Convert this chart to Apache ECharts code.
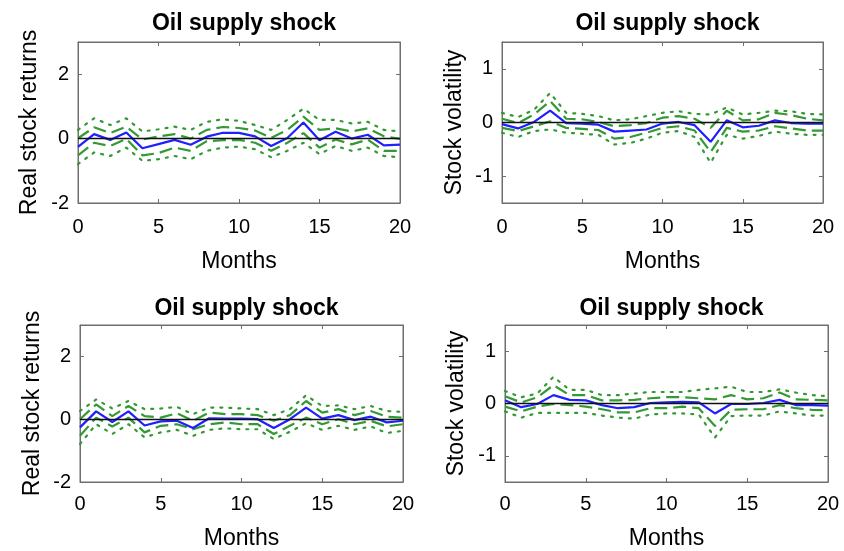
<!DOCTYPE html>
<html>
<head>
<meta charset="utf-8">
<script src="https://cdn.jsdelivr.net/npm/echarts@6/dist/echarts.min.js"></script>
<style>html,body{margin:0;padding:0;background:#fff}#c{width:844px;height:551px}</style>
</head>
<body>
<div id="c"></div>
<script>
const months = [0,1,2,3,4,5,6,7,8,9,10,11,12,13,14,15,16,17,18,19,20];
const xTicks = [0,5,10,15,20];
const titleText = 'Oil supply shock';
const xName = 'Months';
const yNames = ['Real stock returns','Stock volatility','Real stock returns','Stock volatility'];
const retTicks = [-2,0,2];
const volTicks = [-1,0,1];

// Panel 1: real stock returns (top)
const p1_med  = [-0.26,0.14,-0.04,0.19,-0.30,-0.17,-0.04,-0.19,0.06,0.18,0.18,0.07,-0.23,0.02,0.50,-0.05,0.21,0.00,0.12,-0.21,-0.19];
const p1_up68 = [0.01,0.35,0.17,0.37,-0.03,0.07,0.14,0.00,0.27,0.36,0.33,0.25,0.02,0.27,0.68,0.27,0.32,0.22,0.32,0.07,-0.01];
const p1_lo68 = [-0.52,-0.13,-0.23,-0.01,-0.52,-0.45,-0.28,-0.38,-0.08,-0.05,-0.04,-0.13,-0.38,-0.13,0.17,-0.28,-0.03,-0.18,-0.03,-0.38,-0.38];
const p1_up90 = [0.27,0.63,0.42,0.63,0.22,0.29,0.37,0.27,0.52,0.60,0.55,0.42,0.27,0.58,0.93,0.58,0.58,0.47,0.52,0.27,0.22];
const p1_lo90 = [-0.79,-0.43,-0.54,-0.28,-0.69,-0.64,-0.54,-0.64,-0.38,-0.28,-0.25,-0.33,-0.58,-0.38,-0.13,-0.48,-0.23,-0.38,-0.28,-0.54,-0.58];

// Panel 2: stock volatility (top)
const p2_med  = [-0.03,-0.11,0.01,0.22,-0.01,-0.02,-0.04,-0.17,-0.15,-0.13,-0.02,0.01,-0.05,-0.36,0.04,-0.09,-0.06,0.04,-0.01,-0.02,-0.02];
const p2_up68 = [0.07,-0.01,0.15,0.40,0.07,0.06,0.01,-0.07,-0.05,-0.01,0.09,0.12,0.07,-0.10,0.22,0.04,0.06,0.18,0.14,0.07,0.04];
const p2_lo68 = [-0.10,-0.16,-0.07,0.02,-0.10,-0.12,-0.14,-0.30,-0.27,-0.19,-0.10,-0.07,-0.15,-0.55,-0.10,-0.17,-0.15,-0.07,-0.11,-0.15,-0.15];
const p2_up90 = [0.18,0.10,0.24,0.55,0.18,0.16,0.12,0.04,0.06,0.12,0.18,0.21,0.16,0.15,0.28,0.15,0.18,0.22,0.21,0.16,0.15];
const p2_lo90 = [-0.19,-0.27,-0.16,-0.13,-0.19,-0.21,-0.23,-0.41,-0.38,-0.30,-0.19,-0.16,-0.27,-0.75,-0.23,-0.30,-0.25,-0.17,-0.21,-0.23,-0.23];

// Panel 3: real stock returns (bottom)
const p3_med  = [-0.26,0.25,-0.09,0.25,-0.20,-0.07,-0.05,-0.28,0.03,0.02,0.02,0.00,-0.28,0.00,0.37,0.02,0.13,-0.03,0.08,-0.10,-0.05];
const p3_up68 = [0.00,0.47,0.10,0.42,0.10,0.05,0.19,-0.05,0.21,0.16,0.16,0.13,-0.05,0.13,0.58,0.21,0.32,0.13,0.26,0.08,0.05];
const p3_lo68 = [-0.53,0.05,-0.23,0.05,-0.42,-0.21,-0.16,-0.32,-0.16,-0.10,-0.16,-0.16,-0.47,-0.21,0.05,-0.16,0.00,-0.16,-0.05,-0.23,-0.16];
const p3_up90 = [0.26,0.63,0.34,0.58,0.32,0.34,0.39,0.16,0.37,0.37,0.34,0.32,0.13,0.32,0.76,0.42,0.44,0.32,0.42,0.26,0.23];
const p3_lo90 = [-0.79,-0.16,-0.47,-0.16,-0.58,-0.42,-0.34,-0.53,-0.34,-0.29,-0.32,-0.32,-0.63,-0.40,-0.13,-0.34,-0.21,-0.34,-0.23,-0.44,-0.37];

// Panel 4: stock volatility (bottom)
const p4_med  = [0.06,-0.07,-0.01,0.16,0.07,0.06,-0.03,-0.09,-0.07,0.01,0.02,0.03,0.02,-0.19,-0.01,-0.01,0.01,0.07,-0.03,-0.03,-0.04];
const p4_up68 = [0.14,0.02,0.12,0.35,0.16,0.16,0.06,0.06,0.07,0.10,0.12,0.12,0.10,0.08,0.16,0.08,0.10,0.21,0.08,0.07,0.06];
const p4_lo68 = [-0.06,-0.15,-0.06,-0.01,-0.03,-0.06,-0.11,-0.17,-0.17,-0.09,-0.09,-0.06,-0.09,-0.43,-0.12,-0.11,-0.11,-0.03,-0.09,-0.12,-0.13];
const p4_up90 = [0.24,0.12,0.19,0.51,0.26,0.26,0.16,0.16,0.19,0.22,0.22,0.22,0.26,0.29,0.32,0.22,0.22,0.27,0.21,0.16,0.14];
const p4_lo90 = [-0.15,-0.27,-0.18,-0.18,-0.18,-0.18,-0.23,-0.27,-0.29,-0.21,-0.19,-0.19,-0.21,-0.65,-0.24,-0.23,-0.23,-0.15,-0.19,-0.23,-0.23];

const panels = [
  {med:p1_med, up68:p1_up68, lo68:p1_lo68, up90:p1_up90, lo90:p1_lo90, ymin:-2, ymax:3, ticks:retTicks},
  {med:p2_med, up68:p2_up68, lo68:p2_lo68, up90:p2_up90, lo90:p2_lo90, ymin:-1.5, ymax:1.5, ticks:volTicks},
  {med:p3_med, up68:p3_up68, lo68:p3_lo68, up90:p3_up90, lo90:p3_lo90, ymin:-2, ymax:3, ticks:retTicks},
  {med:p4_med, up68:p4_up68, lo68:p4_lo68, up90:p4_up90, lo90:p4_lo90, ymin:-1.5, ymax:1.5, ticks:volTicks}
];

// layout (pixels)
const grids = [
  {left:78, top:42, width:322, height:161},
  {left:502, top:42, width:321, height:161},
  {left:80, top:325, width:323, height:158},
  {left:505, top:325, width:323, height:158}
];
const titleTops = [7, 7, 292, 292];
const xNameGaps = [47, 47, 45, 45];
const yNameGaps = [37, 36, 36, 37];
const xLabelMargins = [14, 14, 12, 12];

const FONT = '"Liberation Sans", Arial, Helvetica, sans-serif';
const axisCol = '#6e6e6e';
const green = '#339933';
const blue = '#1f1fff';

const pair = arr => months.map((m,i)=>[m, arr[i]]);

const option = {
  animation:false,
  backgroundColor:'#fff',
  textStyle:{fontFamily:FONT},
  title: grids.map((g,i)=>({
    text:titleText, left:g.left+g.width/2, top:titleTops[i], textAlign:'center',
    textStyle:{fontFamily:FONT, fontSize:23, fontWeight:'bold', color:'#000'}
  })),
  grid: grids.map(g=>({left:g.left, top:g.top, width:g.width, height:g.height, show:true, borderColor:axisCol, borderWidth:1, backgroundColor:'#fff', containLabel:false})),
  xAxis: [], yAxis: [], series: []
};

grids.forEach((g,i)=>{
  const p = panels[i];
  option.xAxis.push({
    type:'value', gridIndex:i, min:0, max:20, interval:5, position:'bottom',
    name:xName, nameLocation:'middle', nameGap:xNameGaps[i],
    nameTextStyle:{fontFamily:FONT, fontSize:23, color:'#000'},
    axisLine:{show:true, onZero:false, lineStyle:{color:axisCol, width:1}},
    axisTick:{show:true, inside:true, length:4, lineStyle:{color:axisCol}, customValues:xTicks},
    axisLabel:{fontFamily:FONT, fontSize:20, color:'#000', margin:xLabelMargins[i], customValues:xTicks},
    splitLine:{show:false}
  });
  option.xAxis.push({
    type:'value', gridIndex:i, min:0, max:20, interval:5, position:'top',
    axisLine:{show:true, onZero:false, lineStyle:{color:axisCol, width:1}},
    axisTick:{show:true, inside:true, length:4, lineStyle:{color:axisCol}, customValues:xTicks},
    axisLabel:{show:false}, splitLine:{show:false}
  });
  option.yAxis.push({
    type:'value', gridIndex:i, min:p.ymin, max:p.ymax, position:'left',
    name:yNames[i], nameLocation:'middle', nameGap:yNameGaps[i], nameRotate:90,
    nameTextStyle:{fontFamily:FONT, fontSize:23, color:'#000'},
    axisLine:{show:true, onZero:false, lineStyle:{color:axisCol, width:1}},
    axisTick:{show:true, inside:true, length:4, lineStyle:{color:axisCol}, customValues:p.ticks},
    axisLabel:{fontFamily:FONT, fontSize:20, color:'#000', margin:9, customValues:p.ticks},
    splitLine:{show:false}
  });
  option.yAxis.push({
    type:'value', gridIndex:i, min:p.ymin, max:p.ymax, position:'right',
    axisLine:{show:true, onZero:false, lineStyle:{color:axisCol, width:1}},
    axisTick:{show:true, inside:true, length:4, lineStyle:{color:axisCol}, customValues:p.ticks},
    axisLabel:{show:false}, splitLine:{show:false}
  });
  const xi = i*2, yi = i*2;
  const base = {type:'line', xAxisIndex:xi, yAxisIndex:yi, symbol:'none', silent:true, smooth:false};
  option.series.push(Object.assign({}, base, {data:pair(p.up90), lineStyle:{color:green, width:2.2, type:[2,7], cap:'round'}}));
  option.series.push(Object.assign({}, base, {data:pair(p.lo90), lineStyle:{color:green, width:2.2, type:[2,7], cap:'round'}}));
  option.series.push(Object.assign({}, base, {data:pair(p.up68), lineStyle:{color:green, width:2.2, type:[13,6]}}));
  option.series.push(Object.assign({}, base, {data:pair(p.lo68), lineStyle:{color:green, width:2.2, type:[13,6]}}));
  option.series.push(Object.assign({}, base, {data:pair(p.med), lineStyle:{color:blue, width:2.2},
    markLine:{silent:true, symbol:'none', label:{show:false}, animation:false,
      lineStyle:{color:'#111', width:1.3, type:'solid'}, data:[{yAxis:0}]}, z:3}));
});

const chart = echarts.init(document.getElementById('c'), null, {renderer:'canvas'});
chart.setOption(option);
</script>
</body>
</html>
